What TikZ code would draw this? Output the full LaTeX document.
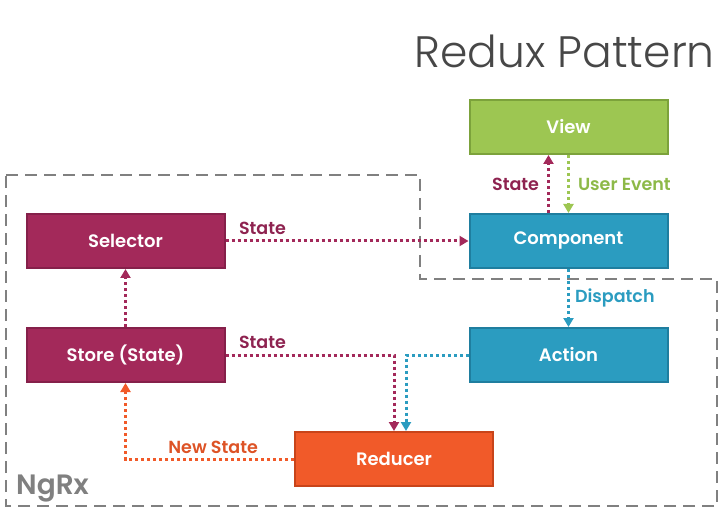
\documentclass[tikz,border=0pt]{standalone}
\usepackage{fontspec}
\setmainfont{Poppins}
\newfontfamily\titlefont{Poppins Light}
\newfontfamily\midfont{Poppins SemiBold}
\usepackage{tikz}
\usetikzlibrary{arrows.meta}

\definecolor{selcol}{HTML}{A3295A}
\definecolor{selline}{HTML}{85204A}
\definecolor{selword}{HTML}{8E2350}
\definecolor{compcol}{HTML}{2B9CC0}
\definecolor{compline}{HTML}{1F7E9F}
\definecolor{viewcol}{HTML}{9DC652}
\definecolor{viewline}{HTML}{7CA23B}
\definecolor{viewword}{HTML}{8DB948}
\definecolor{redcol}{HTML}{F15A29}
\definecolor{redline}{HTML}{C8441A}
\definecolor{redword}{HTML}{DD5326}
\definecolor{ngrxgray}{HTML}{808080}

\begin{document}
\begin{tikzpicture}[x=1pt,y=-1pt]
\tikzset{block/.style = {shape=rectangle,draw,line width=2pt,minimum width=198pt,minimum height=54pt,
  text=white,font=\midfont\fontsize{18}{20}\selectfont}}
\tikzset{flow/.style = {line width=3pt,dash pattern=on 3pt off 3pt,-{Triangle[length=9pt,width=10pt]}}}
\tikzset{word/.style = {font=\midfont\fontsize{17.5}{20}\selectfont,inner sep=2pt}}
\useasboundingbox (0,0) rectangle (728,521);
% NgRx region
\draw[ngrxgray,line width=2.5pt,dash pattern=on 12pt off 7pt]
  (6,175) -- (420,175) -- (420,279) -- (717,279) -- (717,506) -- (6,506) -- cycle;
\node[anchor=base west,text=ngrxgray,font=\midfont\fontsize{28}{32}\selectfont,inner sep=0pt] (ngrx) at (16,494) {NgRx};
\node[anchor=base east,text=black!72,font=\titlefont\fontsize{44}{48}\selectfont,inner sep=0pt] (title) at (715,68) {Redux Pattern};
% boxes
\node[block,fill=viewcol,draw=viewline] (view) at (568.5,127) {View};
\node[block,fill=compcol,draw=compline] (comp) at (568.5,241) {Component};
\node[block,fill=selcol,draw=selline] (sel) at (125.5,241) {Selector};
\node[block,fill=selcol,draw=selline] (store) at (125.5,355) {Store (State)};
\node[block,fill=compcol,draw=compline] (action) at (568.5,355) {Action};
\node[block,fill=redcol,draw=redline] (reducer) at (394,459) {Reducer};
% connectors
\draw[flow,selcol] (sel) -- node[word,text=selword,pos=0,anchor=south west,xshift=10pt,yshift=3pt] {State} (comp);
\draw[flow,selcol] (store) -- (sel);
\draw[flow,selcol] ([xshift=-20pt]comp.north) -- node[word,text=selword,left,xshift=-6pt] {State} ([xshift=-20pt]view.south);
\draw[flow,viewcol] (view) -- node[word,text=viewword,right,xshift=6pt] {User Event} (comp);
\draw[flow,compcol] (comp) -- node[word,text=compcol,right,xshift=3pt] {Dispatch} (action);
\draw[flow,selcol] (store.east) -| node[word,text=selword,pos=0,anchor=south west,xshift=10pt,yshift=3pt] {State} (reducer.north);
\draw[flow,compcol] (action.west) -| ([xshift=12pt]reducer.north);
\draw[flow,redcol] (reducer.west) -| node[word,text=redword,pos=0.24,above,yshift=2pt] {New State} (store.south);
\end{tikzpicture}
\end{document}
